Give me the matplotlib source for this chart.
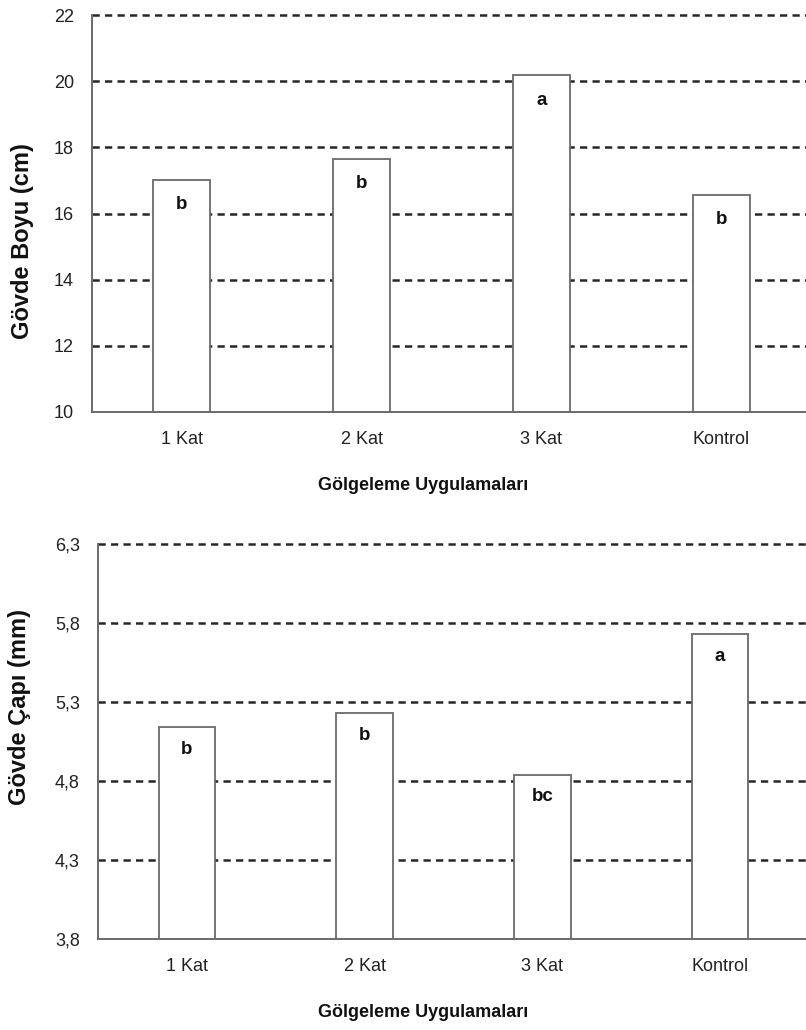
import matplotlib.pyplot as plt

categories = ['1 Kat', '2 Kat', '3 Kat', 'Kontrol']

boy_values = [17.02, 17.65, 20.18, 16.56]
boy_letters = ['b', 'b', 'a', 'b']
boy_ticks = [10, 12, 14, 16, 18, 20, 22]
boy_tick_labels = ['10', '12', '14', '16', '18', '20', '22']

cap_values = [5.14, 5.23, 4.84, 5.73]
cap_letters = ['b', 'b', 'bc', 'a']
cap_ticks = [3.8, 4.3, 4.8, 5.3, 5.8, 6.3]
cap_tick_labels = ['3,8', '4,3', '4,8', '5,3', '5,8', '6,3']

plt.rcParams['font.family'] = ['Liberation Sans', 'DejaVu Sans']


def draw_panel(ax, values, letters, ticks, tick_labels, ylabel, ylab_pos, letter_offset):
    x = list(range(len(categories)))
    # dashed reference lines behind the bars
    for t in ticks[1:]:
        ax.axhline(t, color='#262626', linewidth=1.8, linestyle=(0, (2.9, 2.1)),
                   zorder=1, clip_on=False)
    ax.bar(x, values, width=0.317, color='white', edgecolor='#6a6a6a',
           linewidth=1.3, zorder=2)
    for xi, v, lab in zip(x, values, letters):
        ax.annotate(lab, (xi, v), xytext=(0, -letter_offset), textcoords='offset points',
                    ha='center', va='center', fontsize=13.5, fontweight='bold',
                    color='#111111', zorder=3)

    ax.set_xlim(-0.5, 3.5)
    ax.set_ylim(ticks[0], ticks[-1])
    ax.set_yticks(ticks)
    ax.set_yticklabels(tick_labels)
    ax.set_xticks(x)
    ax.set_xticklabels(categories)
    ax.tick_params(axis='both', length=0, labelsize=13, labelcolor='#222222')
    ax.tick_params(axis='y', pad=13)
    ax.tick_params(axis='x', pad=14)

    for s in ['top', 'right']:
        ax.spines[s].set_visible(False)
    for s in ['left', 'bottom']:
        ax.spines[s].set_color('#6a6a6a')
        ax.spines[s].set_linewidth(1.4)

    ax.set_ylabel(ylabel, fontsize=17, fontweight='bold', color='#111111')
    ax.yaxis.set_label_coords(ylab_pos[0], ylab_pos[1])
    ax.yaxis.label.set_va('center')
    ax.set_xlabel('Gölgeleme Uygulamaları', fontsize=13, fontweight='bold', color='#111111')


fig = plt.figure(figsize=(8.06, 10.30), dpi=100)

ax1 = fig.add_axes([92 / 806, 618 / 1030, 719 / 806, 397 / 1030])
draw_panel(ax1, boy_values, boy_letters, boy_ticks, boy_tick_labels,
           'Gövde Boyu (cm)', (-0.097, 0.43), 18)
ax1.xaxis.set_label_coords(0.46, -0.184)
ax1.xaxis.label.set_va('center')

ax2 = fig.add_axes([98 / 806, 91 / 1030, 711 / 806, 395 / 1030])
draw_panel(ax2, cap_values, cap_letters, cap_ticks, cap_tick_labels,
           'Gövde Çapı (mm)', (-0.11, 0.587), 16)
ax2.xaxis.set_label_coords(0.457, -0.185)
ax2.xaxis.label.set_va('center')

plt.savefig('out.png', dpi=100)
plt.close()
